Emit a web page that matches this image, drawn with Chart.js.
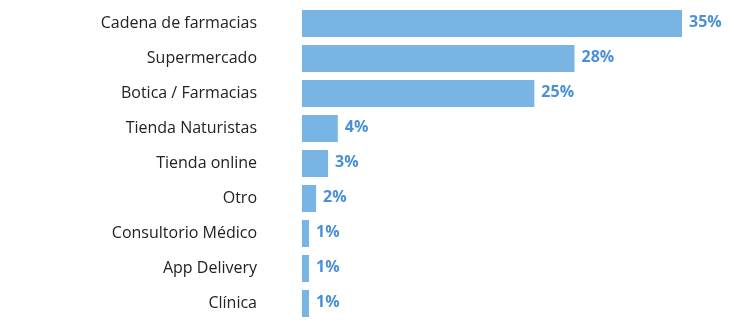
<!DOCTYPE html>
<html lang="es">
  <head>
    <meta charset="UTF-8" />
    <title>Canal de compra</title>
    <script src="https://cdn.jsdelivr.net/npm/chart.js@4.4.0/dist/chart.umd.min.js"></script>
    <style>
      html, body { margin: 0; padding: 0; background: #fff; }
      #wrap { width: 734px; height: 327px; }
    </style>
  </head>
  <body>
    <div id="wrap"><canvas id="chart1"></canvas></div>
    <script>
      const canales = [
        "Cadena de farmacias",
        "Supermercado",
        "Botica / Farmacias",
        "Tienda Naturistas",
        "Tienda online",
        "Otro",
        "Consultorio Médico",
        "App Delivery",
        "Clínica",
      ];
      // bar lengths
      const valores = [35, 25.1, 21.4, 3.3, 2.4, 1.3, 0.65, 0.65, 0.65];
      // labels printed next to each bar
      const etiquetas = ["35%", "28%", "25%", "4%", "3%", "2%", "1%", "1%", "1%"];

      const barLabels = {
        id: "barLabels",
        afterDatasetsDraw(chart) {
          const ctx = chart.ctx;
          const meta = chart.getDatasetMeta(0);
          ctx.save();
          ctx.font = "bold 16px 'Open Sans'";
          ctx.fillStyle = "#4a90d9";
          ctx.textAlign = "left";
          ctx.textBaseline = "middle";
          meta.data.forEach((bar, i) => {
            ctx.fillText(etiquetas[i], bar.x + 7, bar.y - 1);
          });
          ctx.restore();
        },
      };

      const ctx = document.getElementById("chart1").getContext("2d");
      const chart1 = new Chart(ctx, {
        type: "bar",
        data: {
          labels: canales,
          datasets: [
            {
              data: valores,
              backgroundColor: "#78b5e5",
              barPercentage: 0.77,
              categoryPercentage: 1,
            },
          ],
        },
        options: {
          indexAxis: "y",
          responsive: true,
          maintainAspectRatio: false,
          animation: false,
          layout: { padding: { top: 6, bottom: 6, right: 52, left: 0 } },
          plugins: {
            legend: { display: false },
            tooltip: { enabled: false },
          },
          scales: {
            x: { display: false, min: 0, max: 35 },
            y: {
              grid: { display: false, drawTicks: false },
              border: { display: false },
              ticks: {
                padding: 45,
                color: "#222",
                font: { family: "'Open Sans'", size: 16 },
              },
              afterFit(scale) {
                scale.width = 302;
                scale.paddingTop = 0;
                scale.paddingBottom = 0;
              },
            },
          },
        },
        plugins: [barLabels],
      });
    </script>
  </body>
</html>
